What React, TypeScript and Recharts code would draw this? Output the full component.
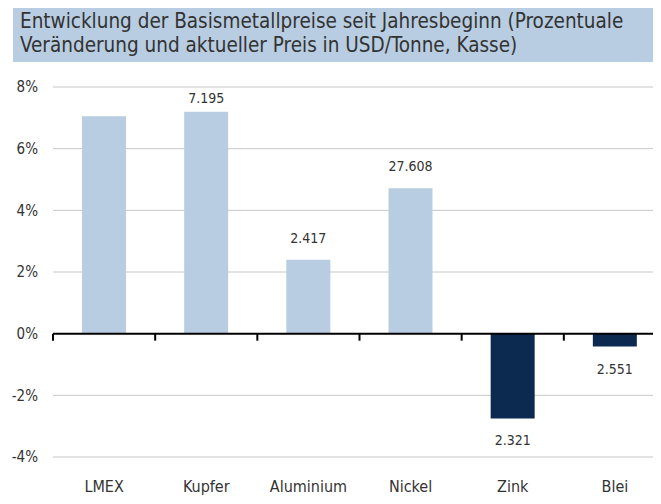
import { BarChart, Bar, XAxis, YAxis, CartesianGrid, ReferenceLine, LabelList, Cell } from 'recharts';

const metals = ['LMEX', 'Kupfer', 'Aluminium', 'Nickel', 'Zink', 'Blei'];
const changes = [7.05, 7.2, 2.4, 4.72, -2.75, -0.42];
const prices = ['', '7.195', '2.417', '27.608', '2.321', '2.551'];
const yTicks = [-4, -2, 0, 2, 4, 6, 8];

const data = metals.map((name, i) => ({ name, change: changes[i], price: prices[i] }));

const FONT = '"DejaVu Sans Condensed", "DejaVu Sans", sans-serif';
const TEXT = '#333333';
const LIGHT = '#b8cde1';
const DARK = '#0c2a50';

function ZeroAxis(props: any) {
  const { x1, x2, y1 } = props;
  const step = (x2 - x1) / metals.length;
  const ticks = [];
  for (let i = 0; i <= metals.length; i++) {
    const x = x1 + i * step;
    ticks.push(<line key={i} x1={x} x2={x} y1={y1} y2={y1 + 7} stroke="#000" strokeWidth={2} />);
  }
  return (
    <g>
      <line x1={x1} x2={x2} y1={y1} y2={y1} stroke="#000" strokeWidth={2} />
      {ticks}
    </g>
  );
}

function PriceLabel(props: any) {
  const { x, y, width, height, value, index } = props;
  if (!value) return null;
  const top = Math.min(y, y + height);
  const bottom = Math.max(y, y + height);
  const cy = changes[index] >= 0 ? Math.max(top - 22, 98) : bottom + 22;
  return (
    <text x={x + width / 2} y={cy} dy="0.35em" textAnchor="middle" fontSize={14} fill={TEXT} style={{ fontFamily: FONT }}>
      {value}
    </text>
  );
}

export default function App() {
  return (
    <div style={{ position: 'relative', margin: -8, width: 661, height: 504, overflow: 'hidden', background: '#fff' }}>
      <div
        style={{
          position: 'absolute',
          left: 13,
          top: 5,
          width: 648,
          height: 57,
          background: LIGHT,
          color: TEXT,
          fontFamily: FONT,
          fontSize: 20.5,
          lineHeight: '24px',
          paddingLeft: 7,
          paddingTop: 4,
          boxSizing: 'border-box',
          whiteSpace: 'nowrap',
        }}
      >
        Entwicklung der Basismetallpreise seit Jahresbeginn (Prozentuale
        <br />
        Veränderung und aktueller Preis in USD/Tonne, Kasse)
      </div>
      <div style={{ position: 'absolute', left: 0, top: 0 }}>
        <BarChart width={666} height={504} data={data} margin={{ top: 87, right: 0, bottom: 0, left: 0 }}>
          <CartesianGrid vertical={false} stroke="#c8c8c8" />
          <XAxis
            dataKey="name"
            axisLine={false}
            tickLine={false}
            tickSize={0}
            tickMargin={24}
            height={47}
            interval={0}
            tick={{ fill: TEXT, fontSize: 16, fontFamily: FONT }}
          />
          <YAxis
            domain={[-4, 8]}
            ticks={yTicks}
            width={53}
            axisLine={false}
            tickLine={false}
            tickSize={0}
            tickMargin={15}
            tickFormatter={(v: number) => `${v}%`}
            tick={{ fill: TEXT, fontSize: 15, fontFamily: FONT }}
          />
          <Bar dataKey="change" barSize={44} isAnimationActive={false}>
            {data.map((d, i) => (
              <Cell key={i} fill={d.change >= 0 ? LIGHT : DARK} />
            ))}
            <LabelList dataKey="price" content={PriceLabel} />
          </Bar>
          <ReferenceLine y={0} shape={ZeroAxis} />
        </BarChart>
      </div>
    </div>
  );
}
